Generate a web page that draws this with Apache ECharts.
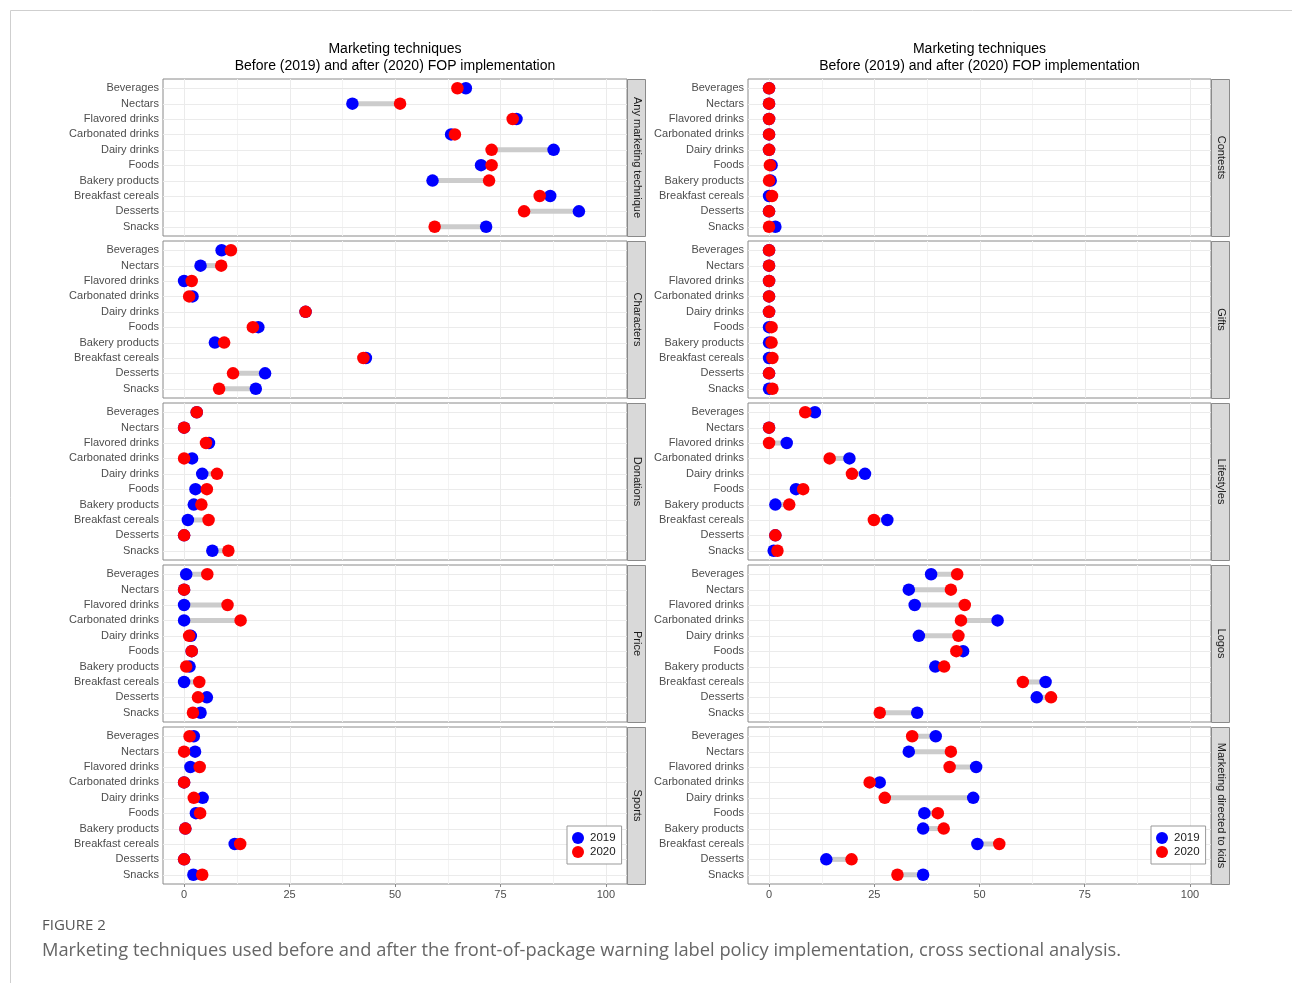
<!DOCTYPE html>
<html>
<head>
<meta charset="utf-8">
<script src="https://cdn.jsdelivr.net/npm/echarts@6/dist/echarts.min.js"></script>
<style>
  html, body { margin: 0; padding: 0; background: #fff; }
  #chart { width: 1292px; height: 983px; }
</style>
</head>
<body>
<div id="chart"></div>
<script>
const categories = ['Beverages', 'Nectars', 'Flavored drinks', 'Carbonated drinks', 'Dairy drinks',
    'Foods', 'Bakery products', 'Breakfast cereals', 'Desserts', 'Snacks'];
const techniques = ['Any marketing technique', 'Characters', 'Donations', 'Price', 'Sports',
    'Contests', 'Gifts', 'Lifestyles', 'Logos', 'Marketing directed to kids'];
const years = ['2019', '2020'];
const xTicks = [0, 25, 50, 75, 100];
const xMinorTicks = [12.5, 37.5, 62.5, 87.5];
const rowTicks = [0, 1, 2, 3, 4, 5, 6, 7, 8, 9];

// share of products (%) per category
const anyMarketing2019 = [66.8, 39.9, 78.8, 63.3, 87.6, 70.4, 58.9, 86.8, 93.6, 71.6];
const anyMarketing2020 = [64.8, 51.2, 77.9, 64.2, 72.9, 72.9, 72.3, 84.3, 80.6, 59.4];
const characters2019 = [8.9, 3.9, 0, 2.0, 28.8, 17.6, 7.3, 43.1, 19.2, 17.0];
const characters2020 = [11.1, 8.8, 1.8, 1.2, 28.8, 16.3, 9.5, 42.5, 11.6, 8.3];
const donations2019 = [3.0, 0, 5.9, 1.9, 4.3, 2.7, 2.3, 0.9, 0, 6.7];
const donations2020 = [3.0, 0, 5.2, 0, 7.8, 5.4, 4.1, 5.8, 0, 10.5];
const price2019 = [0.5, 0, 0, 0, 1.6, 1.8, 1.3, 0, 5.4, 3.9];
const price2020 = [5.5, 0, 10.3, 13.4, 1.2, 1.8, 0.5, 3.6, 3.3, 2.1];
const sports2019 = [2.3, 2.6, 1.5, 0, 4.4, 2.8, 0.3, 12.0, 0, 2.2];
const sports2020 = [1.3, 0, 3.7, 0, 2.3, 3.8, 0.3, 13.3, 0, 4.3];
const contests2019 = [0, 0, 0, 0, 0, 0.6, 0.4, 0, 0, 1.5];
const contests2020 = [0, 0, 0, 0, 0, 0.2, 0, 0.7, 0, 0];
const gifts2019 = [0, 0, 0, 0, 0, 0, 0, 0, 0, 0];
const gifts2020 = [0, 0, 0, 0, 0, 0.6, 0.6, 0.8, 0, 0.8];
const lifestyles2019 = [10.9, 0, 4.2, 19.1, 22.8, 6.4, 1.5, 28.1, 1.5, 1.1];
const lifestyles2020 = [8.6, 0, 0, 14.4, 19.7, 8.1, 4.8, 24.9, 1.5, 2.0];
const logos2019 = [38.5, 33.2, 34.6, 54.3, 35.6, 46.1, 39.5, 65.7, 63.6, 35.2];
const logos2020 = [44.7, 43.2, 46.5, 45.6, 45.0, 44.5, 41.6, 60.3, 67.0, 26.3];
const kids2019 = [39.6, 33.2, 49.2, 26.3, 48.5, 36.9, 36.6, 49.5, 13.6, 36.6];
const kids2020 = [34.0, 43.2, 42.9, 23.9, 27.5, 40.1, 41.5, 54.7, 19.6, 30.5];

const before = [anyMarketing2019, characters2019, donations2019, price2019, sports2019,
    contests2019, gifts2019, lifestyles2019, logos2019, kids2019];
const after = [anyMarketing2020, characters2020, donations2020, price2020, sports2020,
    contests2020, gifts2020, lifestyles2020, logos2020, kids2020];

const font = '"Liberation Sans", Arial, sans-serif';
const colLeft = [163, 748];
const colWidth = [464, 463];
const stripW = 18;
const panelH = 157;
const panelTop = r => 79 + r * 162;

let grids = [], xAxes = [], yAxes = [], series = [], graphics = [];

// frame around the figure
graphics.push({
    type: 'rect', shape: {x: 10.5, y: 10.5, width: 1400, height: 1100},
    style: {fill: 'none', stroke: '#cfcfcf', lineWidth: 1}, silent: true
});

[0, 1].forEach(c => {
    let cx = colLeft[c] + colWidth[c] / 2;
    graphics.push({
        type: 'text', x: cx, y: 49.5,
        style: {text: 'Marketing techniques', font: '14px ' + font, fill: '#000', align: 'center', verticalAlign: 'middle'}
    });
    graphics.push({
        type: 'text', x: cx, y: 66.5,
        style: {text: 'Before (2019) and after (2020) FOP implementation', font: '14px ' + font, fill: '#000', align: 'center', verticalAlign: 'middle'}
    });
});

function renderGridLines(params, api) {
    let cs = params.coordSys;
    let kind = api.value(2);
    if (kind === 2) {
        let y = Math.round(api.coord([0, api.value(1)])[1]) + 0.5;
        return {type: 'line', shape: {x1: cs.x, y1: y, x2: cs.x + cs.width, y2: y},
            style: {stroke: '#ebebeb', lineWidth: 1}};
    }
    let x = Math.round(api.coord([api.value(0), 0])[0]) + 0.5;
    return {type: 'line', shape: {x1: x, y1: cs.y, x2: x, y2: cs.y + cs.height},
        style: {stroke: kind === 0 ? '#ebebeb' : '#f3f3f3', lineWidth: 1}};
}

function renderSegment(params, api) {
    let p1 = api.coord([api.value(0), api.value(2)]);
    let p2 = api.coord([api.value(1), api.value(2)]);
    return {type: 'line', shape: {x1: p1[0], y1: p1[1], x2: p2[0], y2: p2[1]},
        style: {stroke: '#cccccc', lineWidth: 5}};
}

techniques.forEach((name, i) => {
    let c = i < 5 ? 0 : 1;
    let r = i % 5;
    let top = panelTop(r);
    let bottom = r === 4;

    grids.push({
        left: colLeft[c], top: top, width: colWidth[c], height: panelH,
        show: true, borderColor: '#8a8a8a', borderWidth: 1, backgroundColor: '#fff'
    });
    xAxes.push({
        gridIndex: i, type: 'value', min: -5, max: 105,
        axisLine: {show: false, onZero: false}, splitLine: {show: false},
        axisTick: {show: bottom, customValues: xTicks, length: 3, lineStyle: {color: '#888'}},
        axisLabel: {show: bottom, customValues: xTicks, color: '#4d4d4d', fontSize: 11, fontFamily: font, margin: 5}
    });
    // rows as a value axis so the padding matches ggplot's 0.6 discrete expansion
    yAxes.push({
        gridIndex: i, type: 'value', min: -0.6, max: 9.6, inverse: true,
        axisLine: {show: false, onZero: false}, splitLine: {show: false},
        axisTick: {show: false},
        axisLabel: {customValues: rowTicks, formatter: v => categories[Math.round(v)],
            color: '#4d4d4d', fontSize: 11, fontFamily: font, margin: 4}
    });

    let lines = [];
    xTicks.forEach(v => lines.push([v, 0, 0]));
    xMinorTicks.forEach(v => lines.push([v, 0, 1]));
    rowTicks.forEach(k => lines.push([0, k, 2]));
    series.push({
        type: 'custom', xAxisIndex: i, yAxisIndex: i, silent: true, z: 1,
        renderItem: renderGridLines, data: lines, encode: {x: 0, y: 1}
    });
    series.push({
        type: 'custom', xAxisIndex: i, yAxisIndex: i, silent: true, z: 2,
        renderItem: renderSegment,
        data: categories.map((cat, k) => [before[i][k], after[i][k], k]),
        encode: {x: [0, 1], y: 2}
    });
    series.push({
        name: years[0], type: 'scatter', xAxisIndex: i, yAxisIndex: i, z: 3,
        symbolSize: 12.5, itemStyle: {color: '#0000ff', opacity: 1},
        data: categories.map((cat, k) => [before[i][k], k])
    });
    series.push({
        name: years[1], type: 'scatter', xAxisIndex: i, yAxisIndex: i, z: 4,
        symbolSize: 12.5, itemStyle: {color: '#ff0000', opacity: 1},
        data: categories.map((cat, k) => [after[i][k], k])
    });

    // facet strip on the right
    let sx = colLeft[c] + colWidth[c];
    graphics.push({
        type: 'rect', shape: {x: sx + 0.5, y: top + 0.5, width: stripW, height: panelH},
        style: {fill: '#d9d9d9', stroke: '#8a8a8a', lineWidth: 1}, silent: true
    });
    graphics.push({
        type: 'text', x: sx + stripW / 2 + 1, y: top + panelH / 2, rotation: -Math.PI / 2,
        style: {text: name, font: '11px ' + font, fill: '#1a1a1a', align: 'center', verticalAlign: 'middle'}
    });
});

graphics.push({
    type: 'text', x: 42, y: 926,
    style: {text: 'FIGURE 2', font: '15px "Open Sans", sans-serif', fill: '#555', verticalAlign: 'middle'}
});
graphics.push({
    type: 'text', x: 42, y: 951,
    style: {text: 'Marketing techniques used before and after the front-of-package warning label policy implementation, cross sectional analysis.',
        font: '18.3px "Open Sans", sans-serif', fill: '#666', verticalAlign: 'middle'}
});

const legendBase = {
    orient: 'vertical', data: years, icon: 'circle', itemWidth: 12, itemHeight: 12, itemGap: 2,
    padding: [6, 6, 6, 5], borderColor: '#999', borderWidth: 1, backgroundColor: '#fff',
    selectedMode: false, textStyle: {fontSize: 11.5, color: '#1a1a1a', fontFamily: font, padding: [0, 0, 0, 1]}
};

let chart = echarts.init(document.getElementById('chart'));
chart.setOption({
    animation: false,
    backgroundColor: '#fff',
    grid: grids,
    xAxis: xAxes,
    yAxis: yAxes,
    legend: [
        Object.assign({left: 567, top: 826}, legendBase),
        Object.assign({left: 1151, top: 826}, legendBase)
    ],
    graphic: graphics,
    series: series
});
</script>
</body>
</html>
